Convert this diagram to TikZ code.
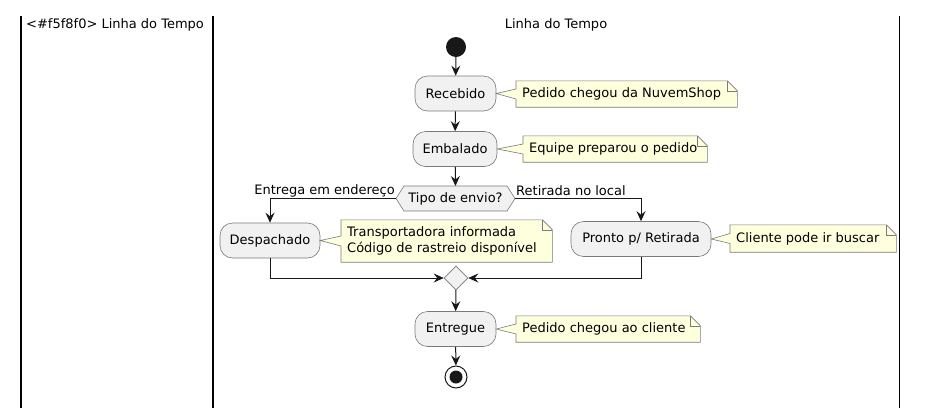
\documentclass[tikz,border=0pt]{standalone}
\usepackage{fontspec}
\setmainfont{DejaVu Sans}
\usetikzlibrary{arrows.meta,shapes.geometric,positioning}
\definecolor{actfill}{HTML}{F1F1F1}
\definecolor{actline}{HTML}{181818}
\definecolor{notefill}{HTML}{FEFFDD}
\definecolor{lanegray}{HTML}{7A7A7A}
\tikzset{
  txt/.style={font=\fontsize{13}{15.5}\selectfont},
  act/.style={txt, draw=lanegray, fill=actfill, rounded corners=12.5pt, line width=0.6pt,
    minimum height=35pt, inner xsep=0pt},
  notebox/.style={anchor=west, inner sep=0pt, minimum height=#1},
  notetxt/.style={txt, align=left, inner sep=0pt, anchor=west},
  notebg/.style={draw=lanegray, fill=notefill, line width=0.6pt},
  flow/.style={draw=actline, line width=1pt, -{Stealth[length=10pt,width=9pt,inset=3.5pt]}},
  lane/.style={draw=black, line width=1.5pt},
  lbl/.style={txt, inner sep=0pt},
}
\newcommand{\drawnote}[3]{% #1 note node, #2 target point, #3 half tail
  \path[notebg] (#1.north west) -- ([xshift=-10pt]#1.north east) -- ([yshift=-10pt]#1.north east)
     -- (#1.south east) -- (#1.south west) -- ([yshift=-#3]#1.west) -- (#2) -- ([yshift=#3]#1.west) -- cycle;
  \draw[draw=lanegray, line width=0.6pt] ([xshift=-10pt]#1.north east) -- ([xshift=-10pt,yshift=-10pt]#1.north east) -- ([yshift=-10pt]#1.north east);}
\begin{document}
\begin{tikzpicture}[x=1pt,y=-1pt]
\useasboundingbox (0,0) rectangle (926,408);
% lanes
\draw[lane] (21,16) -- (21,408);
\draw[lane] (213,16) -- (213,408);
\draw[lane] (899.5,16) -- (899.5,408);
\node[lbl, anchor=west] (t1) at (26,25) {<\#f5f8f0> Linha do Tempo};
\node[lbl] (t2) at (556,25) {Linha do Tempo};
% start
\node[circle, fill=actline, minimum size=20pt, inner sep=0pt] (start) at (456,47) {};
% activities
\node[act, minimum width=81pt] (rec) at (455.5,93.5) {Recebido};
\node[act, minimum width=84pt] (emb) at (455,149) {Embalado};
\path[draw=lanegray, fill=actfill, line width=0.6pt] (396,198.5) -- (404,186) -- (507,186) -- (515,198.5) -- (507,211) -- (404,211) -- cycle;
\node[lbl] (tipo) at (455.5,198.5) {Tipo de envio?};
\node[act, minimum width=100pt] (desp) at (270,240.5) {Despachado};
\node[act, minimum width=140pt] (pronto) at (641,239) {Pronto p/ Retirada};
\node[diamond, draw=lanegray, fill=actfill, line width=0.6pt, minimum width=24pt, minimum height=24pt, inner sep=0pt] (merge) at (456,278) {};
\node[act, minimum width=81pt] (ent) at (455.5,329) {Entregue};
\node[circle, draw=actline, line width=1pt, fill=white, minimum size=22pt, inner sep=0pt] (fim) at (456,377) {};
\node[circle, fill=actline, minimum size=13pt, inner sep=0pt] (fimin) at (456,377) {};
% notes
\node[notebox=26pt, minimum width=221pt] (n1) at (516,94) {};
\drawnote{n1}{rec.east}{5pt}
\node[notetxt] (n1t) at (522,94) {Pedido chegou da NuvemShop};
\node[notebox=26pt, minimum width=184pt] (n2) at (523,149) {};
\drawnote{n2}{emb.east}{5pt}
\node[notetxt] (n2t) at (529,149) {Equipe preparou o pedido};
\node[notebox=42pt, minimum width=211pt] (n3) at (341,241) {};
\drawnote{n3}{desp.east}{5pt}
\node[notetxt] (n3t) at (347,241) {Transportadora informada\\Código de rastreio disponível};
\node[notebox=27pt, minimum width=166pt] (n4) at (730,238.5) {};
\drawnote{n4}{pronto.east}{5pt}
\node[notetxt] (n4t) at (736,238.5) {Cliente pode ir buscar};
\node[notebox=26pt, minimum width=184pt] (n5) at (516,329) {};
\drawnote{n5}{ent.east}{5pt}
\node[notetxt] (n5t) at (522,329) {Pedido chegou ao cliente};
% flows
\draw[flow] (start) -- (rec);
\draw[flow] (rec) -- (emb);
\draw[flow] (emb) -- (455.5,186);
\coordinate (tw) at (396,198.5);
\coordinate (te) at (515,198.5);
\draw[flow] (tw) -| (desp.north);
\draw[flow] (te) -| (pronto.north);
\node[lbl, anchor=east] (lbe) at (395,191) {Entrega em endereço};
\node[lbl, anchor=west] (lbr) at (516,191) {Retirada no local};
\draw[flow] (desp.south) |- (merge.west);
\draw[flow] (pronto.south) |- (merge.east);
\draw[flow] (merge) -- (ent);
\draw[flow] (ent) -- (fim);
\end{tikzpicture}
\end{document}
